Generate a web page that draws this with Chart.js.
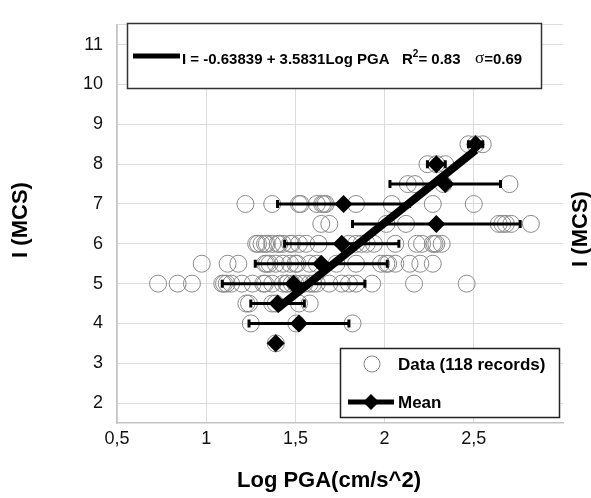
<!DOCTYPE html>
<html>
<head>
<meta charset="utf-8">
<script src="https://cdn.jsdelivr.net/npm/chart.js@4"></script>
<style>
  html, body { margin: 0; padding: 0; background: #fff; }
  #wrap { width: 591px; height: 498px; }
</style>
</head>
<body>
<div id="wrap"><canvas id="chart" width="591" height="498"></canvas></div>
<script>
// intensity levels and the Log PGA of each record at that level
const levels = [8.5, 8, 7.5, 7, 6.5, 6, 5.5, 5, 4.5, 4, 3.5];
const recordPga = [
  [2.47, 2.51, 2.55],
  [2.24, 2.29, 2.34],
  [2.13, 2.17, 2.33, 2.70],
  [1.22, 1.37, 1.52, 1.53, 1.62, 1.65, 1.66, 1.67, 1.84, 2.04, 2.27, 2.50],
  [1.645, 1.69, 2.01, 2.12, 2.64, 2.66, 2.68, 2.71, 2.82],
  [1.28, 1.29, 1.31, 1.33, 1.34, 1.37, 1.40, 1.41, 1.43, 1.47, 1.48, 1.52, 1.56, 1.63,
   1.80, 1.84, 1.87, 1.90, 1.94, 2.06, 2.18, 2.21, 2.27, 2.28, 2.29, 2.32],
  [0.975, 1.12, 1.18, 1.33, 1.34, 1.355, 1.39, 1.43, 1.47, 1.50, 1.51, 1.58, 1.62, 1.73,
   1.84, 1.98, 2.01, 2.02, 2.06, 2.14, 2.20, 2.27],
  [0.73, 0.84, 0.92, 1.09, 1.10, 1.115, 1.14, 1.20, 1.26, 1.32, 1.33, 1.37, 1.43, 1.45,
   1.455, 1.48, 1.50, 1.53, 1.55, 1.58, 1.60, 1.62, 1.69, 1.76, 1.80, 1.84, 1.93, 2.165, 2.46],
  [1.225, 1.24, 1.37, 1.39, 1.52, 1.58],
  [1.25, 1.505, 1.82],
  [1.39]
];

// mean Log PGA per level and its standard deviation
const meanPga = [2.51, 2.29, 2.34, 1.77, 2.29, 1.76, 1.645, 1.49, 1.40, 1.52, 1.39];
const meanI = [8.5, 8, 7.5, 7, 6.5, 6, 5.5, 5, 4.5, 4, 3.5];
const sdPga = [0.04, 0.05, 0.31, 0.37, 0.47, 0.32, 0.37, 0.40, 0.15, 0.28, 0];

// I = a + b LogPGA
const regA = -0.63839;
const regB = 3.5831;
const regRange = [1.39, 2.51];

const xTicks = [0.5, 1, 1.5, 2, 2.5];
const yTicks = [2, 3, 4, 5, 6, 7, 8, 9, 10, 11, 11.5];

const records = [];
levels.forEach((lv, i) => recordPga[i].forEach(p => records.push({ x: p, y: lv })));
const means = meanPga.map((p, i) => ({ x: p, y: meanI[i] }));
const regLine = regRange.map(p => ({ x: p, y: regA + regB * p }));

const FONT = "'Liberation Sans', Arial, sans-serif";

// error bars on the means, drawn right after the records
const errorBars = {
  id: 'errorBars',
  afterDatasetDraw(chart, args) {
    if (args.index !== 0) return;
    const ctx = chart.ctx, xs = chart.scales.x, ys = chart.scales.y;
    ctx.save();
    ctx.strokeStyle = '#000';
    ctx.lineWidth = 3;
    meanPga.forEach((p, i) => {
      if (!sdPga[i]) return;
      const y = ys.getPixelForValue(meanI[i]);
      const x0 = xs.getPixelForValue(p - sdPga[i]);
      const x1 = xs.getPixelForValue(p + sdPga[i]);
      ctx.beginPath();
      ctx.moveTo(x0, y); ctx.lineTo(x1, y);
      ctx.moveTo(x0, y - 4); ctx.lineTo(x0, y + 4);
      ctx.moveTo(x1, y - 4); ctx.lineTo(x1, y + 4);
      ctx.stroke();
    });
    ctx.restore();
  }
};

// legends and axis titles
const decor = {
  id: 'decor',
  afterDraw(chart) {
    const ctx = chart.ctx;
    ctx.save();

    // equation box
    ctx.fillStyle = '#fff';
    ctx.fillRect(127, 23, 415, 66);
    ctx.strokeStyle = '#333';
    ctx.lineWidth = 1.5;
    ctx.strokeRect(127.5, 23.5, 414, 65);
    ctx.strokeStyle = '#000';
    ctx.lineWidth = 5;
    ctx.beginPath(); ctx.moveTo(133, 56); ctx.lineTo(180, 56); ctx.stroke();
    ctx.fillStyle = '#000';
    ctx.textBaseline = 'middle';
    ctx.textAlign = 'left';
    ctx.font = 'bold 15px ' + FONT;
    ctx.fillText('I = -0.63839 + 3.5831Log PGA', 182, 60);
    ctx.fillText('R', 402, 60);
    const rw = ctx.measureText('R').width;
    ctx.font = 'bold 10px ' + FONT;
    ctx.fillText('2', 402 + rw, 54);
    const tw = ctx.measureText('2').width;
    ctx.font = 'bold 15px ' + FONT;
    ctx.fillText('= 0.83', 402 + rw + tw, 60);
    ctx.font = '17px "Liberation Serif", "Times New Roman", serif';
    ctx.fillText('σ', 475, 59);
    const sw = ctx.measureText('σ').width;
    ctx.font = 'bold 15px ' + FONT;
    ctx.fillText('=0.69', 475 + sw, 60);

    // series legend
    ctx.fillStyle = '#fff';
    ctx.fillRect(340, 348, 220, 70);
    ctx.strokeStyle = '#222';
    ctx.lineWidth = 1.5;
    ctx.strokeRect(340.5, 348.5, 219, 69);
    ctx.strokeStyle = '#8a8a8a';
    ctx.lineWidth = 1;
    ctx.beginPath(); ctx.arc(372, 364, 8, 0, Math.PI * 2); ctx.stroke();
    ctx.strokeStyle = '#000';
    ctx.lineWidth = 5;
    ctx.beginPath(); ctx.moveTo(348, 402); ctx.lineTo(394, 402); ctx.stroke();
    ctx.fillStyle = '#000';
    ctx.beginPath();
    ctx.moveTo(371, 394); ctx.lineTo(379, 402); ctx.lineTo(371, 410); ctx.lineTo(363, 402);
    ctx.closePath(); ctx.fill();
    ctx.font = 'bold 17px ' + FONT;
    ctx.fillText('Data (118 records)', 398, 365);
    ctx.fillText('Mean', 398, 403);

    // axis titles
    ctx.font = 'bold 22px ' + FONT;
    ctx.textAlign = 'center';
    ctx.fillText('Log PGA(cm/s^2)', 329, 481);
    [[21, 220], [581, 229]].forEach(([x, y]) => {
      ctx.save();
      ctx.translate(x, y);
      ctx.rotate(-Math.PI / 2);
      ctx.fillText('I (MCS)', 0, 0);
      ctx.restore();
    });
    ctx.restore();
  }
};

new Chart(document.getElementById('chart'), {
  type: 'scatter',
  data: {
    datasets: [{
      label: 'Data (118 records)',
      data: records,
      pointStyle: 'circle',
      pointRadius: 8.5,
      pointBorderWidth: 1,
      pointBorderColor: '#8a8a8a',
      pointBackgroundColor: 'rgba(0,0,0,0)',
      order: 3
    }, {
      label: 'Fit',
      data: regLine,
      showLine: true,
      borderColor: '#000',
      borderWidth: 8,
      pointRadius: 0,
      order: 2
    }, {
      label: 'Mean',
      data: means,
      pointStyle: 'rectRot',
      pointRadius: 9,
      pointBorderWidth: 0,
      pointBackgroundColor: '#000',
      order: 1
    }]
  },
  options: {
    responsive: false,
    animation: false,
    events: [],
    layout: { padding: { top: 17, right: 28, left: 0, bottom: 0 } },
    plugins: { legend: { display: false }, tooltip: { enabled: false } },
    scales: {
      x: {
        type: 'linear',
        min: 0.5,
        max: 3,
        afterBuildTicks: s => { s.ticks = xTicks.map(v => ({ value: v })); },
        afterFit: s => { s.height = 75; },
        grid: { color: '#dcdcdc', drawTicks: false },
        border: { color: '#c4c4c4', width: 1.5 },
        ticks: {
          padding: 5,
          color: '#111',
          font: { family: FONT, size: 18 },
          callback: v => String(v).replace('.', ',')
        }
      },
      y: {
        type: 'linear',
        min: 1.5,
        max: 11.5,
        afterBuildTicks: s => { s.ticks = yTicks.map(v => ({ value: v })); },
        afterFit: s => { s.width = 117; },
        grid: { color: '#dcdcdc', drawTicks: false },
        border: { color: '#c4c4c4', width: 1.5 },
        ticks: {
          padding: 14,
          color: '#111',
          font: { family: FONT, size: 18 },
          callback: v => Number.isInteger(v) ? String(v) : ''
        }
      }
    }
  },
  plugins: [errorBars, decor]
});
</script>
</body>
</html>
